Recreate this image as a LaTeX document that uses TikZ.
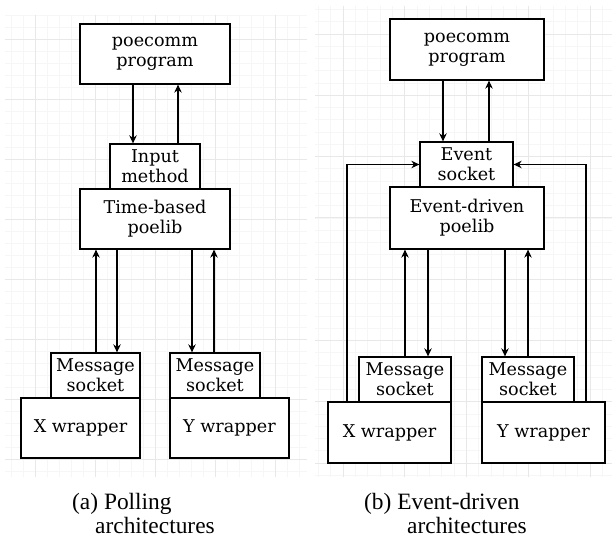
\documentclass[tikz,border=0pt]{standalone}
\usepackage{fontspec}
\setmainfont{Liberation Serif}
\newfontfamily\boxfont{DejaVu Serif}
\usetikzlibrary{arrows.meta,calc}

\begin{document}
\begin{tikzpicture}[x=1pt,y=-1pt,>={Stealth[length=8pt,width=7.5pt]},
  blk/.style={draw,line width=1.3pt,fill=white,inner sep=0pt,align=center,
    font=\boxfont\fontsize{17.6}{20}\selectfont},
  link/.style={->,line width=1.2pt},
  minorgrid/.style={gray!7,line width=0.8pt},
  majorgrid/.style={gray!18,line width=0.8pt},
  captxt/.style={anchor=base west,inner sep=0pt,font=\fontsize{23.4}{27}\selectfont}]
\useasboundingbox (0,0) rectangle (614,537);
% background grids
\foreach \x in {11,23,...,300} \draw[minorgrid] (\x,15) -- (\x,477);
\foreach \y in {15,27,...,477} \draw[minorgrid] (5,\y) -- (307,\y);
\foreach \x in {35,95,...,300} \draw[majorgrid] (\x,15) -- (\x,477);
\foreach \y in {39,99,...,470} \draw[majorgrid] (5,\y) -- (307,\y);
\foreach \x in {318.3,330.65,...,612} \draw[minorgrid] (\x,6) -- (\x,477);
\foreach \y in {9.5,21.76,...,477} \draw[minorgrid] (315,\y) -- (612,\y);
\foreach \x in {343,404.75,...,600} \draw[majorgrid] (\x,6) -- (\x,477);
\foreach \y in {34,95.3,...,470} \draw[majorgrid] (315,\y) -- (612,\y);

% (a) polling
\node[blk,minimum width=150pt,minimum height=60pt] (lprog) at (155,54) {poecomm\\program};
\node[blk,minimum width=90pt,minimum height=45pt] (linput) at (155,166.5) {Input\\method};
\node[blk,minimum width=150pt,minimum height=60pt] (lpoelib) at (155,219) {Time-based\\poelib};
\node[blk,minimum width=89pt,minimum height=45pt] (lxsock) at (95.5,375.5) {Message\\socket};
\node[blk,minimum width=119pt,minimum height=60pt] (lxwrap) at (80.5,428) {X wrapper};
\node[blk,minimum width=90pt,minimum height=45pt] (lysock) at (215,375.5) {Message\\socket};
\node[blk,minimum width=119pt,minimum height=60pt] (lywrap) at (229.5,428) {Y wrapper};

\draw[link] ([xshift=-22pt]lprog.south) -- ([xshift=-22pt]linput.north);
\draw[link] ([xshift=23pt]linput.north) -- ([xshift=23pt]lprog.south);
\draw[link] ([xshift=0.5pt]lxsock.north) -- ([xshift=-59pt]lpoelib.south);
\draw[link] ([xshift=-38pt]lpoelib.south) -- ([xshift=21.5pt]lxsock.north);
\draw[link] ([xshift=37pt]lpoelib.south) -- ([xshift=-23pt]lysock.north);
\draw[link] ([xshift=-1pt]lysock.north) -- ([xshift=59pt]lpoelib.south);

% (b) event-driven
\node[blk,minimum width=154pt,minimum height=61pt] (rprog) at (467,49.5) {poecomm\\program};
\node[blk,minimum width=93pt,minimum height=45pt] (revent) at (466.5,164.5) {Event\\socket};
\node[blk,minimum width=154pt,minimum height=62pt] (rpoelib) at (467,218) {Event-driven\\poelib};
\node[blk,minimum width=92pt,minimum height=45pt] (rxsock) at (405,379.5) {Message\\socket};
\node[blk,minimum width=123pt,minimum height=61pt] (rxwrap) at (389.5,432.5) {X wrapper};
\node[blk,minimum width=92pt,minimum height=45pt] (rysock) at (528,379.5) {Message\\socket};
\node[blk,minimum width=123pt,minimum height=61pt] (rywrap) at (543.5,432.5) {Y wrapper};

\draw[link] ([xshift=-24pt]rprog.south) -- ([xshift=-23.5pt]revent.north);
\draw[link] ([xshift=22.5pt]revent.north) -- ([xshift=22pt]rprog.south);
\draw[link] (rxsock.north) -- ([xshift=-62pt]rpoelib.south);
\draw[link] ([xshift=-39pt]rpoelib.south) -- ([xshift=23pt]rxsock.north);
\draw[link] ([xshift=38pt]rpoelib.south) -- ([xshift=-23pt]rysock.north);
\draw[link] (rysock.north) -- ([xshift=61pt]rpoelib.south);
\draw[link] ([xshift=-42.5pt]rxwrap.north) |- (revent.west);
\draw[link] ([xshift=42.5pt]rywrap.north) |- (revent.east);

% captions
\node[captxt] (capa) at (72,510) {(a) Polling};
\node[captxt] (capa2) at (95,533.5) {architectures};
\node[captxt] (capb) at (364,510) {(b) Event-driven};
\node[captxt] (capb2) at (407,533.5) {architectures};
\end{tikzpicture}
\end{document}
